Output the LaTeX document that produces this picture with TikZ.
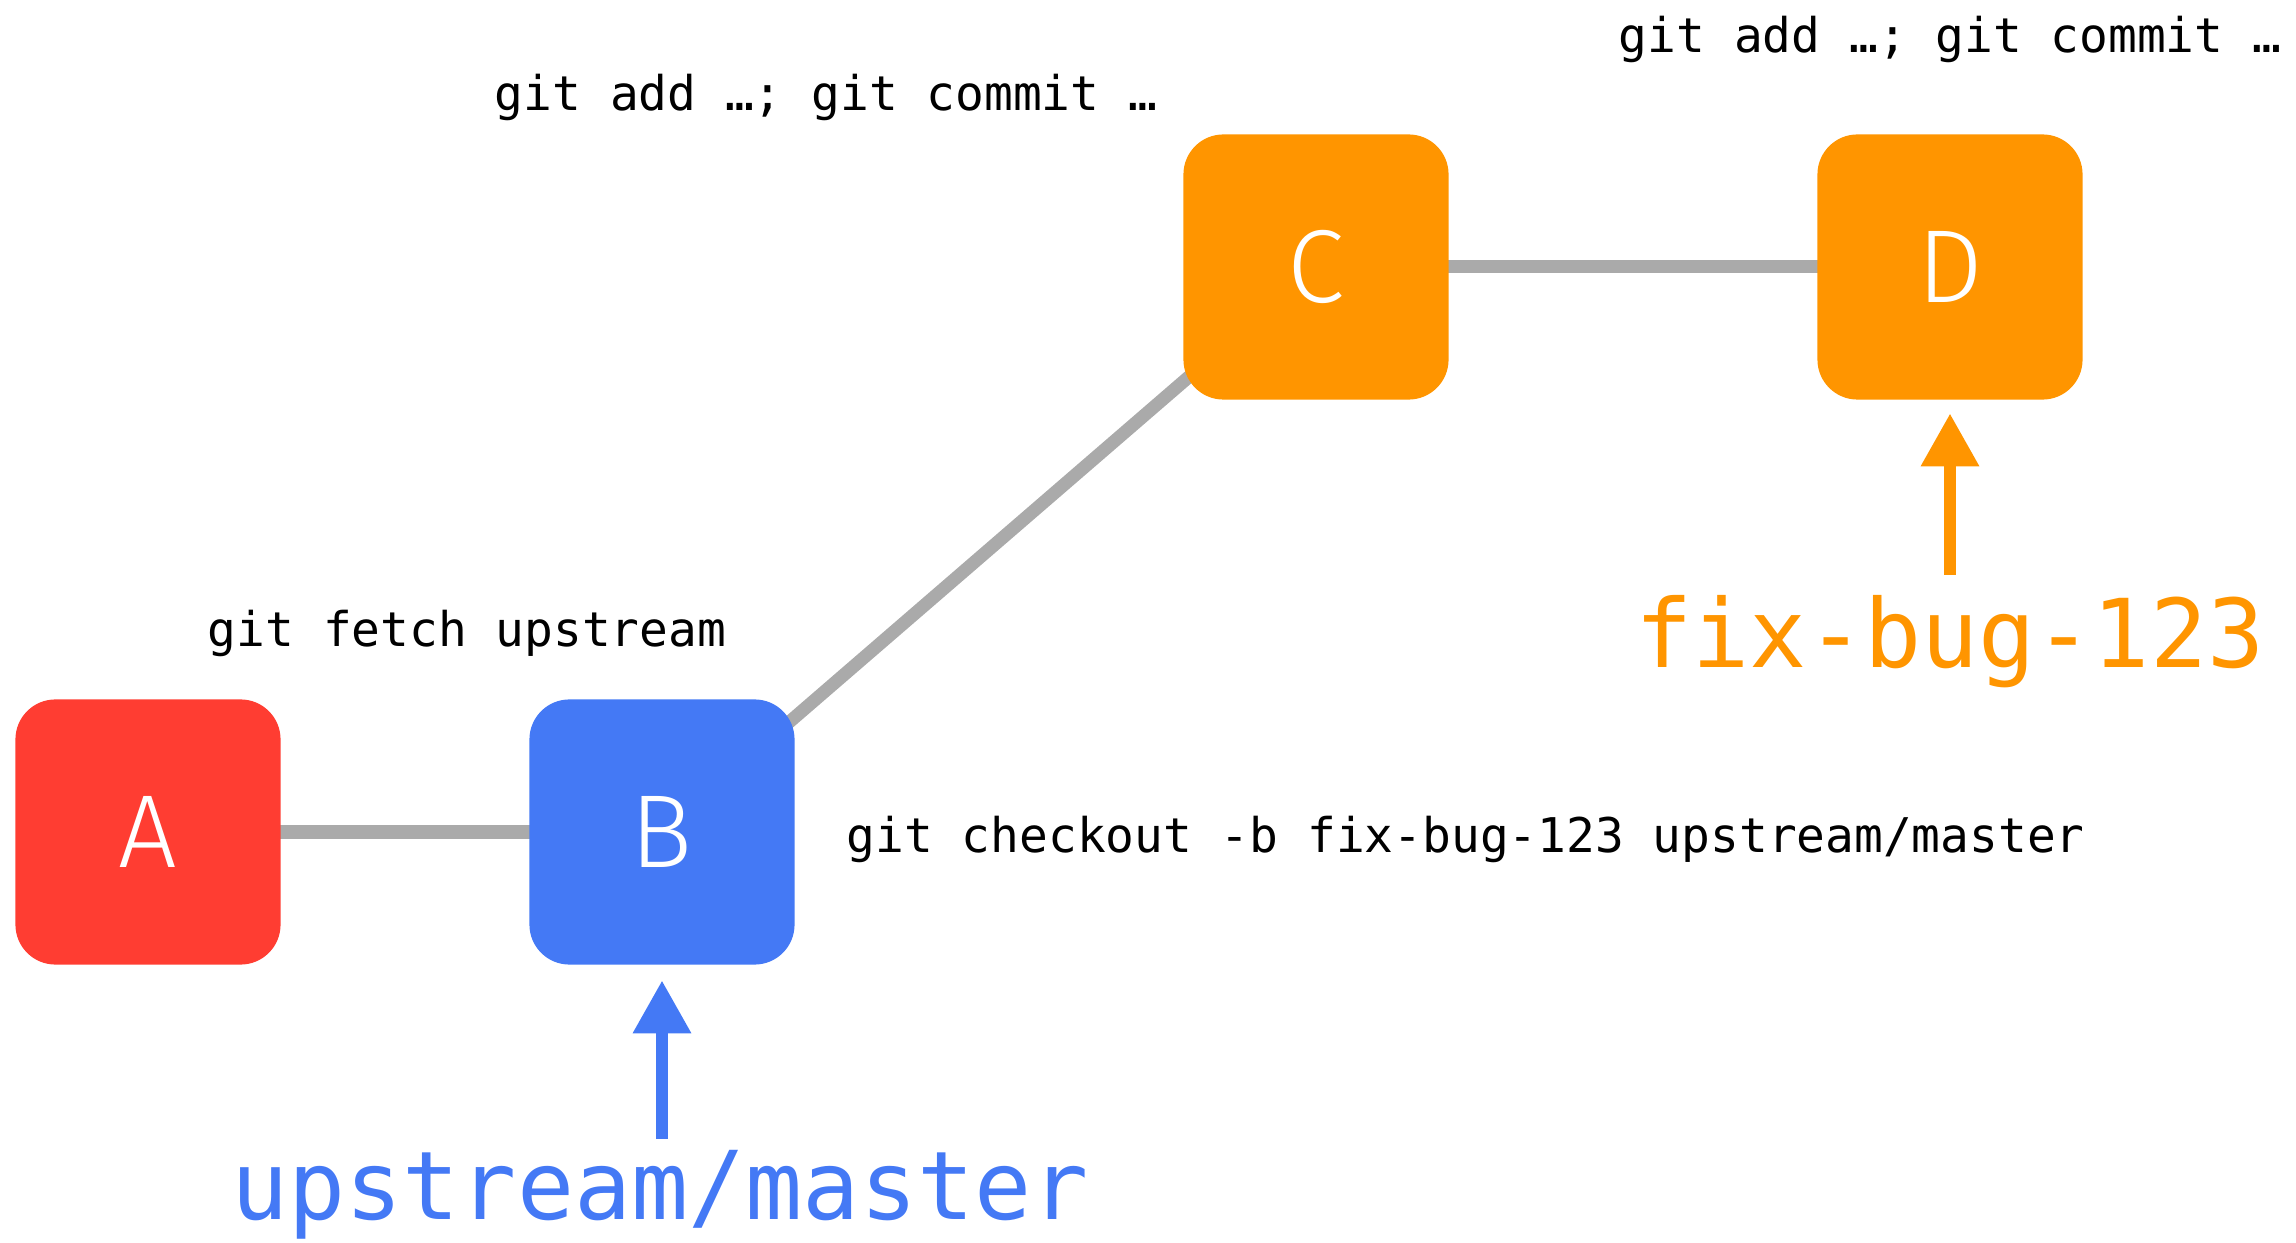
\documentclass[tikz,border=0pt]{standalone}
\usepackage{fontspec}
\setmonofont{DejaVu Sans Mono}
\newfontfamily\boxfont{Fira Sans Light}
\usepackage{tikz}
\usetikzlibrary{arrows.meta}
\usetikzlibrary{backgrounds}

\definecolor{gitred}{HTML}{FF3D32}
\definecolor{gitblue}{HTML}{4479F5}
\definecolor{gitorange}{HTML}{FF9500}
\definecolor{gitgray}{HTML}{AAAAAA}

\tikzset{
  commit/.style={minimum size=2.65cm,rounded corners=0.4cm,text=white,
    font=\boxfont\fontsize{29.5}{32}\selectfont},
  edge/.style={gitgray,line width=0.13cm},
  ptr/.style={line width=0.125cm,-{Triangle[width=0.55cm,length=0.53cm]}},
  cmd/.style={font=\ttfamily\fontsize{13.6}{16}\selectfont,inner sep=0pt},
  branch/.style={font=\ttfamily\fontsize{27}{30}\selectfont,inner sep=0pt}
}

\begin{document}
\begin{tikzpicture}[x=0.01cm,y=-0.01cm]
            \useasboundingbox (0,0) rectangle (2296,1243);

            \node[commit,fill=gitred](commitA) at (148,832){A};
            \node[commit,fill=gitblue](commitB) at (662,832){B};
            \node[commit,fill=gitorange](commitC) at (1316,267){C};
            \node[commit,fill=gitorange](commitD) at (1950,267){D};

            \begin{scope}[on background layer]
            \draw[edge](commitA.center)--(commitB.center);
            \draw[edge](commitB.center)--(commitC.center);
            \draw[edge](commitC.center)--(commitD.center);
            \end{scope}

            \node[cmd,anchor=base](fetch) at (467,647){git fetch upstream};
            \node[cmd,anchor=base west](checkout) at (846,852){git checkout -b fix-bug-123 upstream/master};
            \node[cmd,anchor=base](addC) at (826,111){git add …; git commit …};
            \node[cmd,anchor=base](addD) at (1950,53){git add …; git commit …};

            \coordinate (mastertail) at (662,1139);
            \coordinate (fixtail) at (1950,575);
            \node[branch,text=gitblue,anchor=base](master) at (660,1219){upstream/master};
            \node[branch,text=gitorange,anchor=base](fixbug) at (1950,668){fix-bug-123};
            \draw[ptr,gitblue,shorten >=0.15cm](mastertail)--(commitB);
            \draw[ptr,gitorange,shorten >=0.13cm](fixtail)--(commitD);
        \end{tikzpicture}
\end{document}
